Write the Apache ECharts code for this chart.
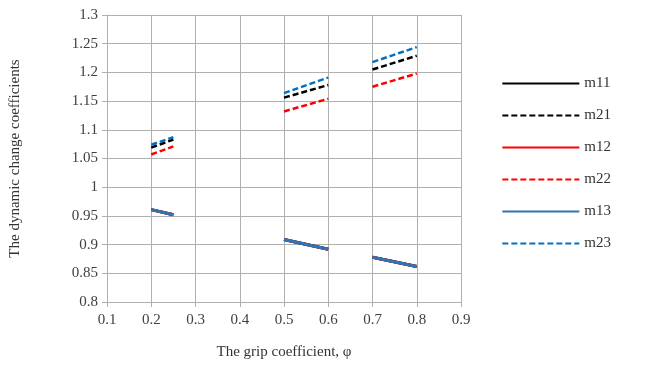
<!DOCTYPE html>
<html>
<head>
<meta charset="utf-8">
<script src="https://cdn.jsdelivr.net/npm/echarts@6/dist/echarts.min.js"></script>
<style>
html, body { margin: 0; padding: 0; background: #fff; }
#chart { width: 647px; height: 379px; }
</style>
</head>
<body>
<div id="chart"></div>
<script>
// x positions of the three segments (start, end) pairs
var gripX = [0.2, 0.25, 0.5, 0.6, 0.7, 0.8];

var m11 = [0.961, 0.952, 0.909, 0.892, 0.878, 0.862];
var m21 = [1.069, 1.083, 1.156, 1.178, 1.205, 1.229];
var m12 = [0.961, 0.952, 0.909, 0.892, 0.878, 0.862];
var m22 = [1.057, 1.071, 1.132, 1.154, 1.175, 1.198];
var m13 = [0.961, 0.952, 0.909, 0.892, 0.878, 0.862];
var m23 = [1.074, 1.087, 1.164, 1.191, 1.218, 1.244];

var font = '"Liberation Serif", "Times New Roman", serif';

function segs(vals) {
	var out = [];
	for (var i = 0; i < gripX.length; i += 2) {
		out.push([gripX[i], vals[i]]);
		out.push([gripX[i + 1], vals[i + 1]]);
		if (i + 2 < gripX.length) out.push([(gripX[i + 1] + gripX[i + 2]) / 2, '-']);
	}
	return out;
}

function line(name, vals, color, dashed) {
	return {
		name: name,
		type: 'line',
		data: segs(vals),
		showSymbol: false,
		symbol: 'none',
		connectNulls: false,
		animation: false,
		lineStyle: {
			color: color,
			width: dashed ? 2.5 : 3,
			type: dashed ? [6, 3] : 'solid'
		},
		itemStyle: { color: color }
	};
}

var chart = echarts.init(document.getElementById('chart'));
chart.setOption({
	backgroundColor: '#fff',
	textStyle: { fontFamily: font },
	grid: { left: 106, right: 186, top: 15, bottom: 77 },
	legend: {
		orient: 'vertical',
		right: 31,
		top: 71,
		itemWidth: 77,
		itemHeight: 14,
		itemGap: 17,
		itemStyle: { opacity: 0 },
		textStyle: { fontFamily: font, fontSize: 15, color: '#333' },
		data: ['m11', 'm21', 'm12', 'm22', 'm13', 'm23']
	},
	xAxis: {
		type: 'value',
		min: 0.1,
		max: 0.9,
		interval: 0.1,
		name: 'The grip coefficient, φ',
		nameLocation: 'middle',
		nameGap: 43,
		nameTextStyle: { fontFamily: font, fontSize: 15, color: '#333' },
		axisLine: { lineStyle: { color: '#b0b0b0' } },
		axisTick: { show: true, length: 5, lineStyle: { color: '#b0b0b0' } },
		axisLabel: { fontFamily: font, fontSize: 15, color: '#404040', margin: 11 },
		splitLine: { show: true, lineStyle: { color: '#b0b0b0' } }
	},
	yAxis: {
		type: 'value',
		min: 0.8,
		max: 1.3,
		interval: 0.05,
		name: 'The dynamic change coefficients',
		nameLocation: 'middle',
		nameGap: 84,
		nameTextStyle: { fontFamily: font, fontSize: 15, color: '#333' },
		axisLine: { show: true, lineStyle: { color: '#b0b0b0' } },
		axisTick: { show: true, length: 5, lineStyle: { color: '#b0b0b0' } },
		axisLabel: { fontFamily: font, fontSize: 15, color: '#404040', margin: 9 },
		splitLine: { show: true, lineStyle: { color: '#b0b0b0' } }
	},
	series: [
		line('m11', m11, '#000000', false),
		line('m21', m21, '#000000', true),
		line('m12', m12, '#ff0000', false),
		line('m22', m22, '#ff0000', true),
		line('m13', m13, '#2e75b6', false),
		line('m23', m23, '#0070c0', true)
	]
});
</script>
</body>
</html>
